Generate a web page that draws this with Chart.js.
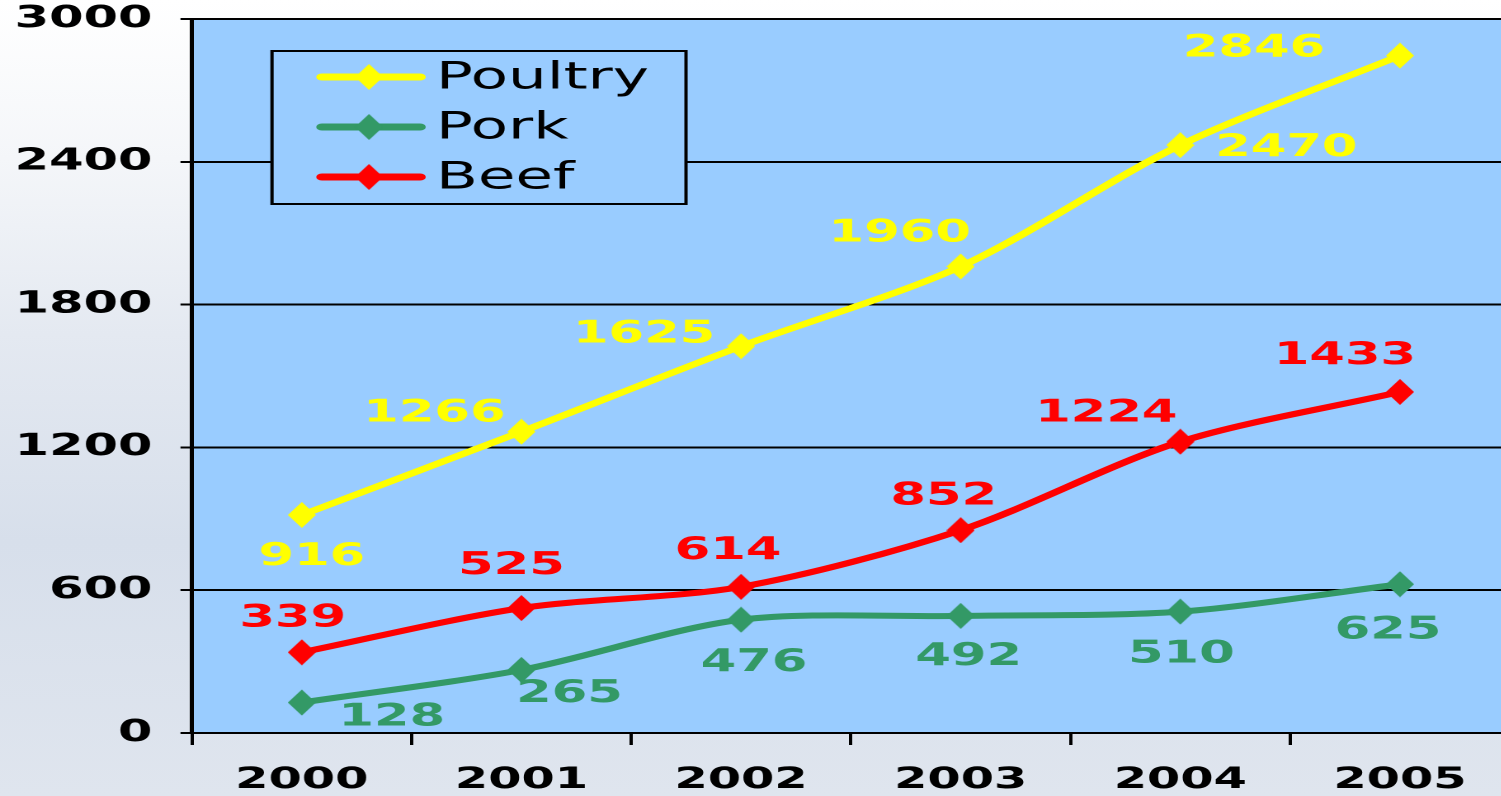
<!DOCTYPE html>
<html>
<head>
<meta charset="utf-8">
<script src="https://cdn.jsdelivr.net/npm/chart.js@4/dist/chart.umd.min.js"></script>
<style>
    html, body { margin: 0; padding: 0; width: 1501px; height: 796px; overflow: hidden; }
    body {
        background: linear-gradient(to bottom, #ffffff 0%, #f4f6f9 20%, #e4e9f1 42%, #d7dfeb 68%, #dfe5ee 100%);
    }
    /* the original picture is stretched sideways, so the whole chart is too */
    #wrap { position: absolute; left: 0; top: 0; width: 930px; height: 796px; transform: scaleX(1.65); transform-origin: 0 0; }
    #myChart { width: 930px; height: 796px; }
</style>
</head>
<body>
<div id="wrap"><canvas id="myChart" width="930" height="796"></canvas></div>
<script>
// data
const years = ['2000', '2001', '2002', '2003', '2004', '2005'];
const poultry = [916, 1266, 1625, 1960, 2470, 2846];
const pork = [128, 265, 476, 492, 510, 625];
const beef = [339, 525, 614, 852, 1224, 1433];
const seriesNames = ['Poultry', 'Pork', 'Beef'];
const seriesColors = ['#FFFF00', '#339966', '#FF0000'];
const yMax = 3000;
const yStep = 600;

// where each value label sits relative to its point (screen px)
const labelOffsets = [
    [[10, 42], [-87, -18], [-97, -12], [-61, -33], [106, 3], [-146, -7]],
    [[90, 15], [48, 24], [13, 43], [8, 41], [1, 43], [-12, 46]],
    [[-9, -34], [-10, -42], [-13, -36], [-17, -34], [-74, -28], [-55, -36]]
];

const STRETCH = 1.65;
const FONT = '"DejaVu Sans", Verdana, sans-serif';

//diamond marker as an image (narrow, since it gets stretched)
function makeDiamond(color, w, h) {
    var c = document.createElement('canvas');
    c.width = w * 4;
    c.height = h * 4;
    var g = c.getContext('2d');
    g.fillStyle = color;
    g.beginPath();
    g.moveTo(c.width / 2, 0);
    g.lineTo(c.width, c.height / 2);
    g.lineTo(c.width / 2, c.height);
    g.lineTo(0, c.height / 2);
    g.closePath();
    g.fill();
    var img = new Image(w, h);
    img.src = c.toDataURL();
    return img;
}

const diamonds = seriesColors.map(col => makeDiamond(col, 17, 26));

const plotBg = {
    id: 'plotBg',
    beforeDraw(chart) {
        const a = chart.chartArea;
        const ctx = chart.ctx;
        ctx.save();
        ctx.fillStyle = '#99CCFF';
        ctx.fillRect(a.left, a.top, a.right - a.left, a.bottom - a.top);
        ctx.restore();
    }
};

const valueLabels = {
    id: 'valueLabels',
    afterDatasetsDraw(chart) {
        const ctx = chart.ctx;
        ctx.save();
        ctx.font = 'bold 31px ' + FONT;
        ctx.textAlign = 'center';
        ctx.textBaseline = 'middle';
        chart.data.datasets.forEach((ds, i) => {
            const meta = chart.getDatasetMeta(i);
            meta.data.forEach((pt, j) => {
                const off = labelOffsets[i][j];
                ctx.fillStyle = ds.borderColor;
                ctx.fillText(String(ds.data[j]), pt.x + off[0] / STRETCH, pt.y + off[1]);
            });
        });
        ctx.restore();
    }
};

// boxed legend inside the plot, top left
const boxLegend = {
    id: 'boxLegend',
    afterDraw(chart) {
        const ctx = chart.ctx;
        const a = chart.chartArea;
        const left = a.left + 80 / STRETCH;
        const top = a.top + 32;
        const w = 414 / STRETCH;
        const h = 153;
        ctx.save();
        ctx.fillStyle = '#99CCFF';
        ctx.fillRect(left, top, w, h);
        ctx.strokeStyle = '#000';
        ctx.lineWidth = 2;
        ctx.strokeRect(left, top, w, h);

        ctx.font = '37px ' + FONT;
        ctx.textBaseline = 'middle';
        ctx.textAlign = 'left';
        chart.data.datasets.forEach((ds, i) => {
            const cy = top + 26 + i * 50;
            ctx.strokeStyle = ds.borderColor;
            ctx.lineWidth = 7;
            ctx.lineCap = 'round';
            ctx.beginPath();
            ctx.moveTo(left + 50 / STRETCH, cy);
            ctx.lineTo(left + 148 / STRETCH, cy);
            ctx.stroke();
            const img = diamonds[i];
            ctx.drawImage(img, left + 97 / STRETCH - img.width / 2, cy - img.height / 2, img.width, img.height);
            ctx.fillStyle = '#000';
            ctx.fillText(ds.label, left + 164 / STRETCH, cy + 2);
        });
        ctx.restore();
    }
};

var config = {
    type: 'line',
    data: {
        labels: years,
        datasets: [poultry, pork, beef].map((vals, i) => ({
            label: seriesNames[i],
            data: vals,
            borderColor: seriesColors[i],
            backgroundColor: seriesColors[i],
            borderWidth: 6,
            tension: 0.3,
            fill: false,
            pointStyle: diamonds[i],
            pointRadius: 9
        }))
    },
    options: {
        responsive: false,
        animation: false,
        devicePixelRatio: 2,
        layout: { padding: { top: 19, right: 3.6, left: 0, bottom: 0 } },
        plugins: {
            legend: { display: false },
            tooltip: { enabled: false }
        },
        scales: {
            x: {
                offset: true,
                grid: {
                    offset: true,
                    drawOnChartArea: false,
                    drawTicks: true,
                    tickLength: 12,
                    tickWidth: 2,
                    tickColor: '#000'
                },
                border: { display: true, color: '#000', width: 2 },
                ticks: {
                    color: '#000',
                    padding: 18,
                    font: { family: FONT, weight: 'bold', size: 29 }
                },
                afterFit: s => { s.height = 63; }
            },
            y: {
                min: 0,
                max: yMax,
                grid: {
                    color: '#000',
                    lineWidth: 2,
                    tickLength: 7,
                    tickColor: '#000'
                },
                border: { display: true, color: '#000', width: 2.5 },
                ticks: {
                    stepSize: yStep,
                    color: '#000',
                    padding: 17,
                    font: { family: FONT, weight: 'bold', size: 30 },
                    callback: v => String(v)
                },
                afterFit: s => {
                    s.width = 192 / STRETCH;
                    // let the top gridline sit near the top edge like the original
                    s.paddingTop = 0;
                    s.paddingBottom = 0;
                }
            }
        }
    },
    plugins: [plotBg, valueLabels, boxLegend]
};

var myChart;
Promise.all(diamonds.map(img => img.decode ? img.decode().catch(() => {}) : Promise.resolve()))
    .then(() => {
        myChart = new Chart(document.getElementById('myChart'), config);
    });
</script>
</body>
</html>
